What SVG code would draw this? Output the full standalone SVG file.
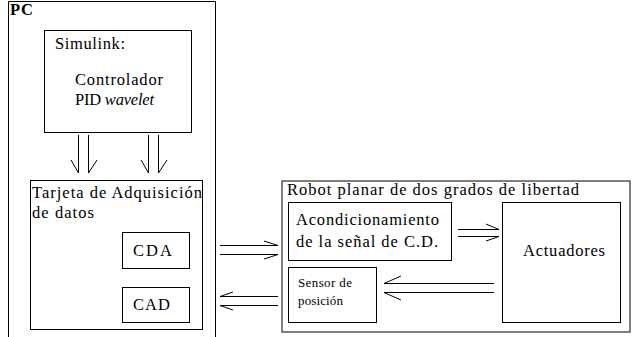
<svg xmlns="http://www.w3.org/2000/svg" width="632" height="337" viewBox="0 0 632 337">
<style>
.box{fill:none;stroke:#000;stroke-width:1}
.gbox{fill:none;stroke:#555;stroke-width:1.5}
.ln{stroke:#000;stroke-width:1;fill:none}
</style>
<rect width="632" height="337" fill="#fff"/>
<g font-family="Liberation Serif, serif" font-size="16.5" fill="#000">
<g id="pc">
<path class="box" d="M8.5,340 V1.5 H215.5 V340"/>
<text x="10" y="15" font-weight="bold" textLength="23">PC</text>
</g>
<g id="simulink">
<rect class="box" x="44.5" y="30.5" width="147" height="102"/>
<text x="55" y="49" textLength="70">Simulink:</text>
<text x="75" y="85" textLength="88">Controlador</text>
<text x="75" y="105" textLength="79">PID <tspan font-style="italic">wavelet</tspan></text>
</g>
<g id="tarjeta">
<rect class="box" x="30.5" y="180.5" width="172" height="149"/>
<text x="32" y="198" textLength="170">Tarjeta de Adquisición</text>
<text x="32" y="218" textLength="62">de datos</text>
</g>
<g id="cda">
<rect class="box" x="122.5" y="232.5" width="67" height="36"/>
<text x="133" y="256" textLength="39">CDA</text>
</g>
<g id="cad">
<rect class="box" x="122.5" y="287.5" width="67" height="35"/>
<text x="133" y="310" textLength="37">CAD</text>
</g>
<g id="robot">
<rect class="gbox" x="282" y="181" width="348" height="151"/>
<text x="287" y="195" textLength="292">Robot planar de dos grados de libertad</text>
</g>
<g id="acond">
<rect class="box" x="288.5" y="202.5" width="163" height="58"/>
<text x="296" y="225" textLength="143">Acondicionamiento</text>
<text x="296" y="247" textLength="142">de la señal de C.D.</text>
</g>
<g id="actuadores">
<rect class="box" x="502.5" y="202.5" width="118" height="120"/>
<text x="523" y="256" textLength="82">Actuadores</text>
</g>
<g id="sensor">
<rect class="box" x="288.5" y="267.5" width="88" height="55"/>
<text x="298" y="287" font-size="13" textLength="54">Sensor de</text>
<text x="298" y="305" font-size="13" textLength="45">posición</text>
</g>
</g>
<g id="connectors">
<path class="ln" d="M78.5,135 V173 L71,160 M88.5,135 V173 L97,160"/>
<path class="ln" d="M148.5,135 V173 L141,160 M158.5,135 V173 L167,160"/>
<path class="ln" d="M220,245.5 H278 L264,241 M220,254.5 H278 L264,259"/>
<path class="ln" d="M278,296.5 H220 L233,292 M278,305.5 H220 L233,310"/>
<path class="ln" d="M458,229.5 H499 L486,224 M458,236.5 H499 L486,241"/>
<path class="ln" d="M494,283.5 H384 L401,276 M494,292.5 H384 L401,300"/>
</g>
</svg>
